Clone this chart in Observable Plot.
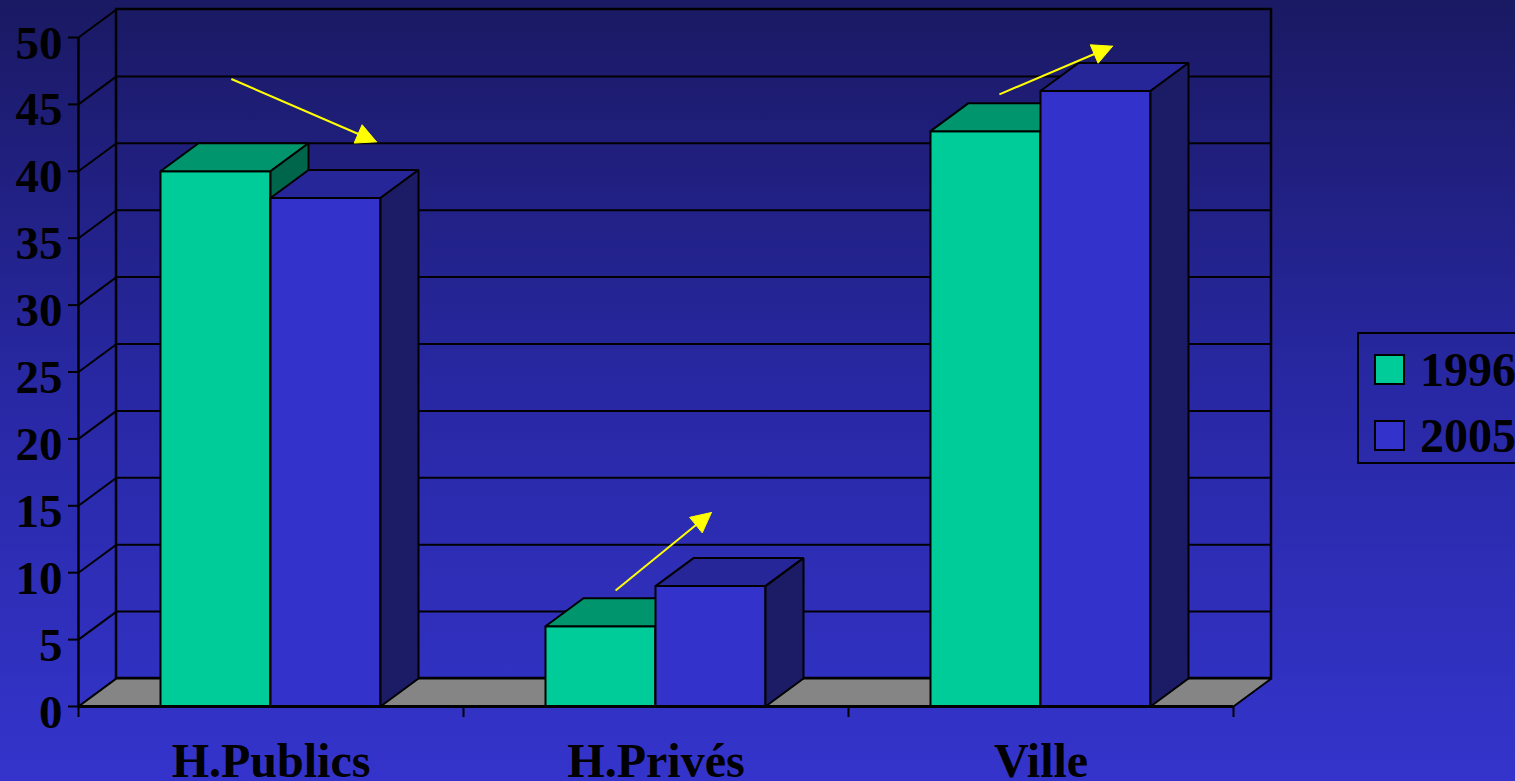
<!DOCTYPE html>
<html>
<head>
<meta charset="utf-8">
<script src="https://cdn.jsdelivr.net/npm/d3@7"></script>
<script src="https://cdn.jsdelivr.net/npm/@observablehq/plot@0.6"></script>
<style>
  html, body { margin: 0; padding: 0; width: 1515px; height: 781px; overflow: hidden; }
  body {
    background: linear-gradient(to bottom, #1a1963 0%, #2828a4 50%, #3434cc 100%);
    font-family: "Liberation Serif", "Times New Roman", serif;
    position: relative;
  }
  #chart { position: absolute; left: 0; top: 0; }
  #legend {
    position: absolute; left: 1357px; top: 332px; width: 175px; height: 128px;
    border: 2px solid #000; box-sizing: content-box;
  }
  #legend .sw { position: absolute; left: 15px; width: 31px; height: 31px; border: 2px solid #000; box-sizing: border-box; }
  #legend .lb { position: absolute; left: 61px; font-size: 48px; font-weight: bold; line-height: 48px; color: #000; }
</style>
</head>
<body>
<div id="chart"></div>
<div id="legend"></div>
<script>
// ---- data ----
const categories = ["H.Publics", "H.Privés", "Ville"];
const seriesNames = ["1996", "2005"];
const values1996 = [40, 6, 43];
const values2005 = [38, 9, 46];
const yTicks = [0, 5, 10, 15, 20, 25, 30, 35, 40, 45, 50];
// trend arrows (annotation), in data space: x = category position, y = value
const trendArrows = [
  { x1: 0.397, y1: 46.9, x2: 0.774, y2: 42.2 },
  { x1: 1.395, y1: 8.67, x2: 1.644, y2: 14.5 },
  { x1: 2.392, y1: 45.75, x2: 2.686, y2: 49.35 }
];

// ---- style / layout ----
const W = 1515, H = 781;
const mL = 78, mR = 282, mT = 37, mB = 75;
const kx = (W - mL - mR) / categories.length;  // px per category
const ky = (H - mT - mB) / 50;                 // px per unit
const DEPTH_X = 38, DEPTH_Y = 28;             // px depth offset
const ddx = DEPTH_X / kx, ddy = DEPTH_Y / ky;  // depth in data units
const inset = 82 / kx, bw = 110 / kx;
const frontColors = ["#00cc99", "#3333cc"];
const topColors = ["#00956d", "#262699"];
const sideColors = ["#00664b", "#1c1c66"];
const serif = "Liberation Serif, Times New Roman, serif";

const seriesValues = [values1996, values2005];

// faces built from data
function faces(s) {
  const front = [], top = [], side = [];
  seriesValues[s].forEach((v, i) => {
    const x0 = i + inset + s * bw, x1 = x0 + bw;
    const id = categories[i] + s;
    [[x0,0],[x1,0],[x1,v],[x0,v],[x0,0]].forEach(([x,y]) => front.push({id, x, y}));
    [[x0,v],[x1,v],[x1+ddx,v+ddy],[x0+ddx,v+ddy],[x0,v]].forEach(([x,y]) => top.push({id, x, y}));
    [[x1,0],[x1+ddx,ddy],[x1+ddx,v+ddy],[x1,v],[x1,0]].forEach(([x,y]) => side.push({id, x, y}));
  });
  return {front, top, side};
}
const floor = [[0,0],[categories.length,0],[categories.length+ddx,ddy],[ddx,ddy],[0,0]].map(([x,y]) => ({id:"floor", x, y}));

function arrowHeads() {
  const out = [];
  const L = 20, Wd = 20;
  trendArrows.forEach((a, k) => {
    const px = (a.x2 - a.x1) * kx, py = -(a.y2 - a.y1) * ky;
    const len = Math.hypot(px, py), ux = px / len, uy = py / len;
    const nx = -uy, ny = ux;
    const bx = -ux * L, by = -uy * L;
    const pts = [[0,0],[bx + nx*Wd/2, by + ny*Wd/2],[bx - nx*Wd/2, by - ny*Wd/2],[0,0]];
    pts.forEach(([ox, oy]) => out.push({id: "h" + k, x: a.x2 + ox / kx, y: a.y2 - oy / ky}));
  });
  return out;
}
function shaftEnds() {
  return trendArrows.map(a => {
    const px = (a.x2 - a.x1) * kx, py = -(a.y2 - a.y1) * ky;
    const len = Math.hypot(px, py);
    const f = (len - 16) / len;
    return { x1: a.x1, y1: a.y1, x2: a.x1 + (a.x2 - a.x1) * f, y2: a.y1 + (a.y2 - a.y1) * f };
  });
}

const f0 = faces(0), f1 = faces(1);
const poly = (data, fill) => Plot.line(data, {x: "x", y: "y", z: "id", fill, stroke: "#000", strokeWidth: 2, strokeLinejoin: "miter"});

const chart = Plot.plot({
  width: W, height: H,
  marginLeft: mL, marginRight: mR, marginTop: mT, marginBottom: mB,
  style: { background: "transparent", overflow: "visible" },
  x: { domain: [0, categories.length], axis: null },
  y: { domain: [0, 50], axis: null },
  marks: [
    // back wall
    Plot.rect([0], { x1: ddx, x2: categories.length + ddx, y1: ddy, y2: 50 + ddy, fill: "none", stroke: "#000", strokeWidth: 2.5 }),
    Plot.ruleY(yTicks.filter(v => v > 0 && v < 50), { y: v => v + ddy, x1: ddx, x2: categories.length + ddx, stroke: "#000", strokeWidth: 2 }),
    // left wall diagonals
    Plot.link(yTicks, { x1: 0, y1: v => v, x2: ddx, y2: v => v + ddy, stroke: "#000", strokeWidth: 2 }),
    // floor
    poly(floor, "#858585"),
    // bars
    poly(f0.front, frontColors[0]), poly(f0.top, topColors[0]), poly(f0.side, sideColors[0]),
    poly(f1.front, frontColors[1]), poly(f1.top, topColors[1]), poly(f1.side, sideColors[1]),
    // front axis lines
    Plot.ruleX([0], { y1: 0, y2: 50, stroke: "#000", strokeWidth: 2.5 }),
    Plot.ruleY([0], { x1: 0, x2: categories.length, stroke: "#000", strokeWidth: 3 }),
    Plot.ruleY(yTicks, { x1: -10 / kx, x2: 0, stroke: "#000", strokeWidth: 2 }),
    Plot.ruleX(d3.range(categories.length + 1), { y1: -11 / ky, y2: 0, stroke: "#000", strokeWidth: 2 }),
    // labels
    Plot.text(yTicks, { x: 0, y: v => v, text: v => String(v), textAnchor: "end", dx: -16, dy: 6,
      fontSize: 47, fontWeight: "bold", fontFamily: serif, fill: "#000" }),
    Plot.text(categories, { x: (d, i) => i + 0.5, y: 0, text: d => d, dy: 55,
      fontSize: 48, fontWeight: "bold", fontFamily: serif, fill: "#000" }),
    // trend arrows
    Plot.link(shaftEnds(), { x1: "x1", y1: "y1", x2: "x2", y2: "y2", stroke: "#ffff00", strokeWidth: 2 }),
    Plot.line(arrowHeads(), { x: "x", y: "y", z: "id", fill: "#ffff00", stroke: "#ffff00", strokeWidth: 1 })
  ]
});
document.getElementById("chart").appendChild(chart);

// legend
const legend = document.getElementById("legend");
const swTops = [20, 86], lbTops = [12, 78];
seriesNames.forEach((name, i) => {
  const sw = document.createElement("div");
  sw.className = "sw"; sw.style.top = swTops[i] + "px"; sw.style.background = frontColors[i];
  const lb = document.createElement("div");
  lb.className = "lb"; lb.style.top = lbTops[i] + "px"; lb.textContent = name;
  legend.appendChild(sw); legend.appendChild(lb);
});
</script>
</body>
</html>
